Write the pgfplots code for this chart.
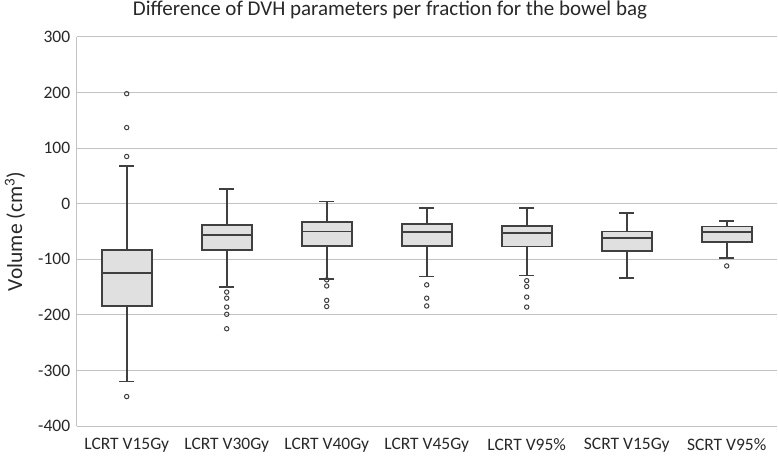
\documentclass[border=0pt]{standalone}
\usepackage{fontspec}
\setmainfont{Carlito}
\usepackage{pgfplots}
\pgfplotsset{compat=1.18}
\usepgfplotslibrary{statistics}
\definecolor{boxfill}{RGB}{224,224,224}
\definecolor{boxedge}{RGB}{64,64,64}
\definecolor{gridc}{RGB}{195,195,195}
\definecolor{txt}{RGB}{40,40,40}
\begin{document}
\begin{tikzpicture}
\useasboundingbox (-76.7pt,-29pt) rectangle (701.3pt,426pt);
\begin{axis}[
  at={(0pt,0pt)}, anchor=south west,
  scale only axis, width=700pt, height=389pt,
  xmin=-0.5, xmax=6.5, ymin=-400, ymax=300,
  ytick={-400,-300,...,300},
  xtick={0,...,6},
  xticklabels={LCRT V15Gy, LCRT V30Gy, LCRT V40Gy, LCRT V45Gy, LCRT V95\%, SCRT V15Gy, SCRT V95\%},
  major tick length=0pt,
  ymajorgrids, grid style={gridc, line width=1pt},
  axis x line*=bottom, axis y line*=left,
  axis line style={gridc, line width=1pt, -},
  /pgf/number format/assume math mode=true,
  ticklabel style={font=\fontsize{17.5}{19}\selectfont, text=txt},
  yticklabel style={xshift=-3pt},
  xticklabel style={yshift=-9pt},
  boxplot/draw direction=y,
  mybox/.style={boxplot prepared={#1}, boxplot/box extend=0.5, boxplot/whisker extend=0.15,
    draw=boxedge, fill=boxfill, line width=1.8pt, solid, mark=o, mark size=2.2pt,
    mark options={draw=boxedge, line width=1pt, fill=none}},
]
\addplot[mybox={draw position=0, lower whisker=-320, lower quartile=-184, median=-125, upper quartile=-83, upper whisker=68}]
  table[row sep=\\, y index=0] {198\\ 137\\ 85\\ -347\\};
\addplot[mybox={draw position=1, lower whisker=-150, lower quartile=-84, median=-56, upper quartile=-38, upper whisker=26}]
  table[row sep=\\, y index=0] {-159\\ -170\\ -186\\ -199\\ -225\\};
\addplot[mybox={draw position=2, lower whisker=-135, lower quartile=-75.5, median=-50, upper quartile=-33.5, upper whisker=4}]
  table[row sep=\\, y index=0] {-137\\ -148\\ -174\\ -185\\};
\addplot[mybox={draw position=3, lower whisker=-131, lower quartile=-75.5, median=-51, upper quartile=-36, upper whisker=-8}]
  table[row sep=\\, y index=0] {-146\\ -170\\ -184\\};
\addplot[mybox={draw position=4, lower whisker=-129, lower quartile=-77, median=-53, upper quartile=-39.6, upper whisker=-8}]
  table[row sep=\\, y index=0] {-138.5\\ -149\\ -168\\ -186\\};
\addplot[mybox={draw position=5, lower whisker=-134, lower quartile=-85, median=-61, upper quartile=-50, upper whisker=-16}]
  coordinates {};
\addplot[mybox={draw position=6, lower whisker=-97, lower quartile=-69, median=-51.5, upper quartile=-41, upper whisker=-31}]
  table[row sep=\\, y index=0] {-112\\};
\end{axis}
\node[font=\fontsize{21}{23}\selectfont, text=txt, anchor=base] at (313.3pt,410.5pt) {Difference of DVH parameters per fraction for the bowel bag};
\node[font=\fontsize{21.5}{23}\selectfont, text=txt, rotate=90] at (-61.7pt,194.5pt) {Volume (cm\textsuperscript{3})};
\end{tikzpicture}
\end{document}
